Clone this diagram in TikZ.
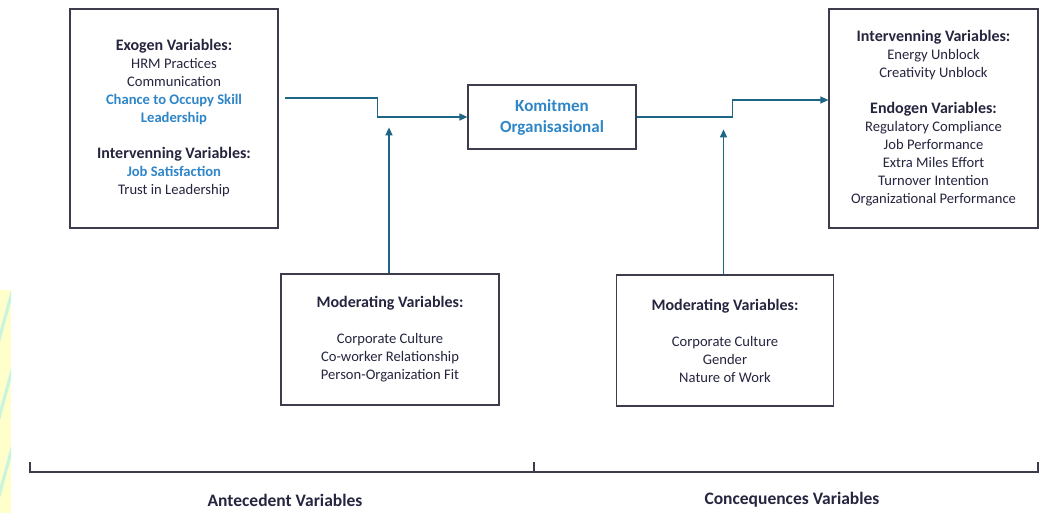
\documentclass[tikz,border=0pt]{standalone}
\usepackage{fontspec}
\setmainfont{Carlito}
\usepackage{xcolor}
\usetikzlibrary{arrows.meta, positioning}

\definecolor{navy}{HTML}{25253F}
\definecolor{skyblue}{HTML}{2E86C8}
\definecolor{linkteal}{HTML}{1F6585}
\definecolor{boxgray}{HTML}{3C3C4C}
\definecolor{pastelyellow}{HTML}{FFFFCC}
\definecolor{pastelmint}{HTML}{C8F5DC}

\newcommand{\hd}[1]{{\fontsize{16}{18}\selectfont\textbf{#1}}}
\newcommand{\hl}[1]{\textcolor{skyblue}{\textbf{#1}}}

\begin{document}
\begin{tikzpicture}[x=1pt, y=-1pt,
    varbox/.style={draw=boxgray, line width=1.2pt, align=center, text=navy,
        font=\fontsize{14.6}{18}\selectfont, inner sep=0pt},
    link/.style={draw=linkteal, line width=1.4pt, -{Triangle[length=8pt,width=7pt]}},
    axis/.style={draw=boxgray, line width=1.2pt}]

    \useasboundingbox (0,0) rectangle (1043,513);
    \fill[white] (0,0) rectangle (1043,513);

    % watermark strip on the left edge
    \begin{scope}
        \clip (0,290) rectangle (11,513);
        \fill[pastelyellow] (0,290) rectangle (11,513);
        \foreach \y in {290,368,446} {
            \fill[pastelmint] (0,\y+40) -- (11,\y) -- (11,\y+12) -- (0,\y+52) -- cycle;
        }
    \end{scope}

    % Antecedent side
    \node[varbox, minimum width=208pt, minimum height=219pt] (exo) at (174,118.5)
        {\hd{Exogen Variables:}\\ HRM Practices\\ Communication\\
         \hl{Chance to Occupy Skill}\\ \hl{Leadership}\\[18pt]
         \hd{Intervenning Variables:}\\ \hl{Job Satisfaction}\\ Trust in Leadership};

    \node[varbox, minimum width=218pt, minimum height=131pt] (modA) at (390,339.5)
        {\hd{Moderating Variables:}\\[18pt] Corporate Culture\\
         Co-worker Relationship\\ Person-Organization Fit};

    % Komitmen
    \node[varbox, minimum width=168pt, minimum height=64pt, text=skyblue,
        font=\fontsize{17}{21}\selectfont\bfseries] (kom) at (552,117)
        {Komitmen\\ Organisasional};

    % Consequence side
    \node[varbox, minimum width=209pt, minimum height=219pt] (endo) at (933.5,118.5)
        {\hd{Intervenning Variables:}\\ Energy Unblock\\ Creativity Unblock\\[18pt]
         \hd{Endogen Variables:}\\ Regulatory Compliance\\ Job Performance\\
         Extra Miles Effort\\ Turnover Intention\\ Organizational Performance};

    \node[varbox, minimum width=217pt, minimum height=131pt] (modB) at (725,340.5)
        {\hd{Moderating Variables:}\\[18pt] Corporate Culture\\
         Gender\\ Nature of Work};

    % connectors
    \coordinate (exoout) at ([xshift=6pt, yshift=20.5pt]exo.east);
    \draw[link] (exoout) -- ++(93,0) |- (kom.west);
    \draw[link] ([xshift=-1pt]modA.north) -- ++(0,-146);
    \draw[link] (kom.east) -- ++(96,0) |- ([yshift=18.5pt]endo.west);
    \draw[link] ([xshift=-1.5pt]modB.north) -- ++(0,-145);

    % bracket at the bottom
    \draw[axis] (30,462) -- (30,472) -- (1038,472) -- (1038,462);
    \draw[axis] (534,472) -- (534,462);
    \node[text=navy, font=\fontsize{17.5}{20}\selectfont\bfseries] (ante) at (285,500) {Antecedent Variables};
    \node[text=navy, font=\fontsize{17.5}{20}\selectfont\bfseries] (cons) at (792,500) {Concequences Variables};
\end{tikzpicture}
\end{document}
